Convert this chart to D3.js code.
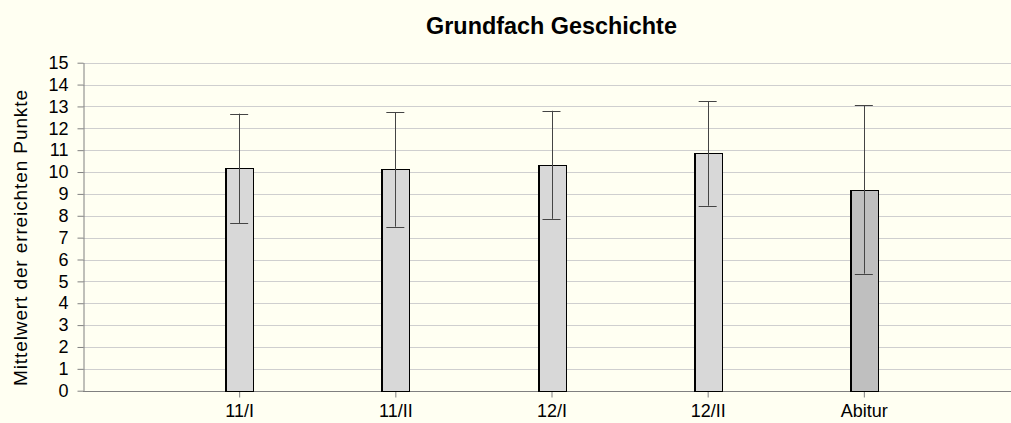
<!DOCTYPE html>
<html>
<head>
<meta charset="utf-8">
<script src="https://cdn.jsdelivr.net/npm/d3@7"></script>
<style>
  body { margin: 0; background: #fffff2; }
  svg { display: block; font-family: "Liberation Sans", Arial, sans-serif; }
</style>
</head>
<body>
<svg id="chart" width="1011" height="423"></svg>
<script>
const categories = ['11/I', '11/II', '12/I', '12/II', 'Abitur']
const means = [10.17, 10.12, 10.33, 10.85, 9.2]
const errors = [2.5, 2.62, 2.47, 2.39, 3.85]
const yTicks = d3.range(0, 16)

const svg = d3.select('#chart')
const plotLeft = 83, plotRight = 1020, plotTop = 62.7, plotBottom = 390.7

// empty slots at both ends so the bars sit like in the original
const x = d3.scalePoint().domain(['', ...categories, ' ']).range([plotLeft, plotRight])
const y = d3.scaleLinear().domain([0, 15]).range([plotBottom, plotTop])

const rows = categories.map((c, i) => ({cat: c, mean: means[i], err: errors[i]}))

svg.append('rect').attr('width', 1011).attr('height', 423).attr('fill', '#fffff2')

// grid
svg.append('g').selectAll('line').data(yTicks.slice(1)).enter().append('line')
    .attr('x1', plotLeft).attr('x2', 1011)
    .attr('y1', d => Math.round(y(d)) + 0.5).attr('y2', d => Math.round(y(d)) + 0.5)
    .attr('stroke', '#cfcfcf')

const yAxis = svg.append('g').attr('transform', `translate(${plotLeft + 0.5},0)`)
    .call(d3.axisLeft(y).tickValues(yTicks).tickSize(6).tickPadding(9).tickSizeOuter(0))
yAxis.select('.domain').attr('stroke', '#808080')
yAxis.selectAll('.tick line').attr('stroke', '#808080')
yAxis.selectAll('text').attr('font-size', 18).attr('fill', '#000')

const xAxis = svg.append('g').attr('transform', `translate(0,${Math.round(plotBottom) + 0.5})`)
    .call(d3.axisBottom(x).tickValues(categories).tickSize(6).tickPadding(7).tickSizeOuter(0))
xAxis.select('.domain').attr('stroke', '#808080').attr('d', `M${plotLeft},0H1011`)
xAxis.selectAll('.tick line').attr('stroke', '#808080')
xAxis.selectAll('text').attr('font-size', 18).attr('fill', '#000')

const barW = 28
const bars = svg.append('g').selectAll('g').data(rows).enter().append('g')

bars.append('rect')
    .attr('x', d => Math.round(x(d.cat) - barW / 2) + 0.5)
    .attr('y', d => Math.round(y(d.mean)) + 0.5)
    .attr('width', barW)
    .attr('height', d => Math.round(plotBottom) - Math.round(y(d.mean)))
    .attr('fill', d => d.cat === 'Abitur' ? '#bfbfbf' : '#d8d8d8')
    .attr('stroke', '#000')
    .attr('stroke-width', 1)
// darker left edge like the original
bars.append('line')
    .attr('x1', d => Math.round(x(d.cat) - barW / 2) + 1.5).attr('x2', d => Math.round(x(d.cat) - barW / 2) + 1.5)
    .attr('y1', d => Math.round(y(d.mean))).attr('y2', Math.round(plotBottom))
    .attr('stroke', '#000')

// error bars
bars.append('line')
    .attr('x1', d => Math.round(x(d.cat)) + 0.5).attr('x2', d => Math.round(x(d.cat)) + 0.5)
    .attr('y1', d => y(d.mean + d.err)).attr('y2', d => y(d.mean - d.err))
    .attr('stroke', '#444')
bars.selectAll('.cap').data(d => [d.mean + d.err, d.mean - d.err].map(v => ({cat: d.cat, v})))
    .enter().append('line')
    .attr('x1', d => x(d.cat) - 9).attr('x2', d => x(d.cat) + 9)
    .attr('y1', d => Math.round(y(d.v)) + 0.5).attr('y2', d => Math.round(y(d.v)) + 0.5)
    .attr('stroke', '#444')

svg.append('text')
    .attr('x', (plotLeft + plotRight) / 2).attr('y', 34)
    .attr('text-anchor', 'middle')
    .attr('font-size', 23.4).attr('font-weight', 'bold')
    .text('Grundfach Geschichte')

svg.append('text')
    .attr('transform', 'translate(27,238) rotate(-90)')
    .attr('text-anchor', 'middle')
    .attr('font-size', 19)
    .attr('textLength', 296).attr('lengthAdjust', 'spacing')
    .text('Mittelwert der erreichten Punkte')
</script>
</body>
</html>
